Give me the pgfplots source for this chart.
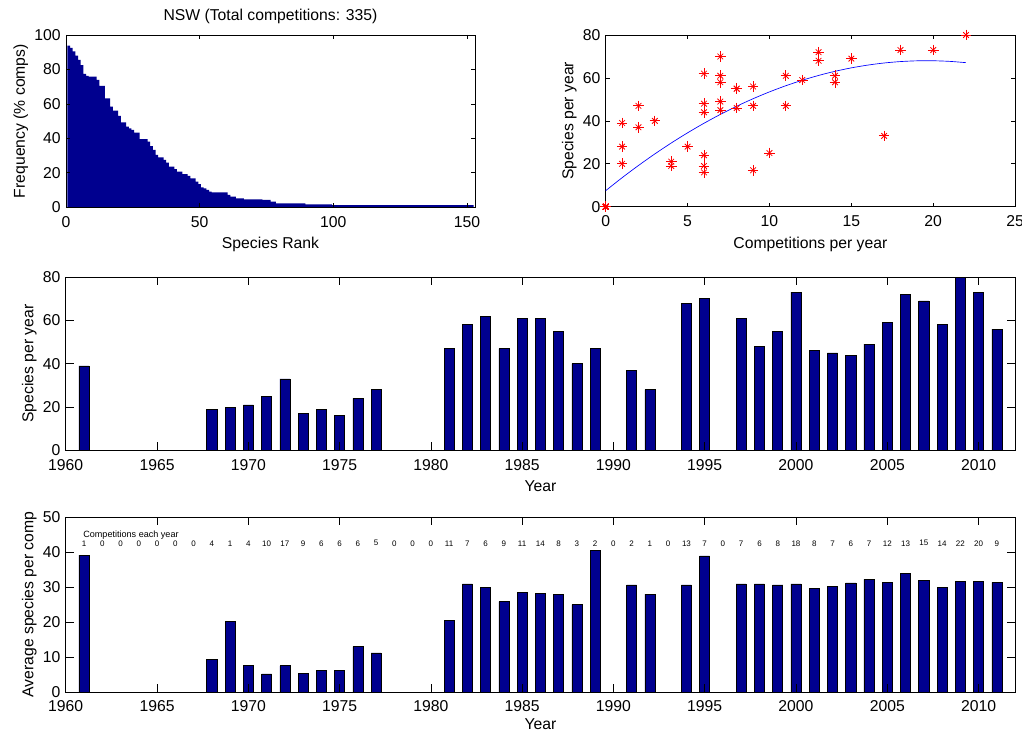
\documentclass[border=0pt]{standalone}
\usepackage{fontspec}
\setmainfont{Liberation Sans}
\usepackage{pgfplots}
\pgfplotsset{compat=1.18}
\definecolor{barnavy}{RGB}{0,0,143}
\pgfplotstableread{
year val
1961 39
1968 19
1969 20
1970 21
1971 25
1972 33
1973 17
1974 19
1975 16
1976 24
1977 28
1981 47
1982 58
1983 62
1984 47
1985 61
1986 61
1987 55
1988 40
1989 47
1991 37
1992 28
1994 68
1995 70
1997 61
1998 48
1999 55
2000 73
2001 46
2002 45
2003 44
2004 49
2005 59
2006 72
2007 69
2008 58
2009 80
2010 73
2011 56
}\speciesyear
\pgfplotstableread{
year val
1961 39.1
1968 9.3
1969 20.2
1970 7.5
1971 5.2
1972 7.5
1973 5.4
1974 6.1
1975 6.1
1976 13.0
1977 11.2
1981 20.5
1982 30.9
1983 29.8
1984 25.8
1985 28.4
1986 28.1
1987 27.8
1988 25.0
1989 40.5
1991 30.6
1992 28.0
1994 30.6
1995 38.9
1997 30.9
1998 30.9
1999 30.6
2000 30.9
2001 29.5
2002 30.2
2003 31.2
2004 32.2
2005 31.3
2006 34.0
2007 32.0
2008 29.9
2009 31.6
2010 31.6
2011 31.3
}\avgspecies
\pgfplotstableread{
year y c
1961 42.5 1
1962 42.5 0
1963 42.5 0
1964 42.5 0
1965 42.5 0
1966 42.5 0
1967 42.5 0
1968 42.5 4
1969 42.5 1
1970 42.5 4
1971 42.5 10
1972 42.5 17
1973 42.5 9
1974 42.5 6
1975 42.5 6
1976 42.5 6
1977 42.5 5
1978 42.5 0
1979 42.5 0
1980 42.5 0
1981 42.5 11
1982 42.5 7
1983 42.5 6
1984 42.5 9
1985 42.5 11
1986 42.5 14
1987 42.5 8
1988 42.5 3
1989 42.5 2
1990 42.5 0
1991 42.5 2
1992 42.5 1
1993 42.5 0
1994 42.5 13
1995 42.5 7
1996 42.5 0
1997 42.5 7
1998 42.5 6
1999 42.5 8
2000 42.5 18
2001 42.5 8
2002 42.5 7
2003 42.5 6
2004 42.5 7
2005 42.5 12
2006 42.5 13
2007 42.5 15
2008 42.5 14
2009 42.5 22
2010 42.5 20
2011 42.5 9
}\compsyear
\pgfplotstableread{
comps species
1 39
0 0
0 0
0 0
0 0
0 0
0 0
4 19
1 20
4 21
10 25
17 33
9 17
6 19
6 16
6 24
5 28
0 0
0 0
0 0
11 47
7 58
6 62
9 47
11 61
14 61
8 55
3 40
2 47
0 0
2 37
1 28
0 0
13 68
7 70
0 0
7 61
6 48
8 55
18 73
8 46
7 45
6 44
7 49
12 59
13 72
15 69
14 58
22 80
20 73
9 56
}\scatterdata
\pgfplotstableread{
x y
0 7.5
1 13.52
2 19.22
3 24.61
4 29.68
5 34.44
6 38.88
7 43.01
8 46.82
9 50.32
10 53.5
11 56.37
12 58.92
13 61.16
14 63.08
15 64.69
16 65.98
17 66.96
18 67.62
19 67.97
20 68.0
21 67.72
22 67.12
}\fitdata
\begin{document}
\begin{tikzpicture}
\path[use as bounding box] (0,0) rectangle (766.5pt,549.75pt);
\pgfplotsset{
  every axis/.append style={
    scale only axis, anchor=south west,
    font=\fontsize{11.8}{14}\selectfont,
    tick label style={font=\fontsize{11.8}{14}\selectfont},
    label style={font=\fontsize{11.8}{14}\selectfont},
    title style={font=\fontsize{11.8}{14}\selectfont, yshift=-1pt},
    xticklabel style={inner sep=1pt, yshift=-5.4pt},
    yticklabel style={inner sep=1pt, xshift=-2.9pt},
    xlabel style={yshift=-3pt},
    /pgf/number format/assume math mode=true,
    /pgf/number format/set thousands separator={},
    tick align=inside, xtick pos=both, ytick pos=both,
    axis line style={line width=0.5pt},
    every tick/.style={black, line width=0.5pt},
    scaled ticks=false,
  }
}
% top-left histogram
\begin{axis}[at={(49.5pt,394.3pt)}, width=306.75pt, height=129.2pt,
  xmin=0, xmax=153, ymin=0, ymax=100,
  xtick={0,50,100,150}, ytick={0,20,40,60,80,100},
  major tick length=3pt, axis on top,
  title={NSW (Total competitions: 335)},
  xlabel={Species Rank}, ylabel={Frequency (\% comps)}]
\addplot[ybar interval, fill=barnavy, draw=none] coordinates {
(0.5,93.8)(1.5,92.5)(2.5,90.5)(3.5,88)(4.5,85.5)(5.5,82.5)(6.5,77.4)(7.5,76.2)(8.5,75.8)(9.5,75.8)
(10.5,75.8)(11.5,73.9)(12.5,70.4)(13.5,70.4)(14.5,63.2)(15.5,63.2)(16.5,58.4)(17.5,56.1)(18.5,56.1)(19.5,53.0)
(20.5,49.3)(21.5,49.3)(22.5,46.8)(23.5,45.8)(24.5,44.9)(25.5,43.3)(26.5,43.3)(27.5,39.5)(28.5,39.5)(29.5,39.5)
(30.5,38.1)(31.5,35.5)(32.5,33.3)(33.5,30.4)(34.5,29.0)(35.5,29.0)(36.5,27.5)(37.5,25.9)(38.5,23.6)(39.5,23.6)
(40.5,22.1)(41.5,20.7)(42.5,20.7)(43.5,19.3)(44.5,19.3)(45.5,18.2)(46.5,16.8)(47.5,16.8)(48.5,14.9)(49.5,13.5)
(50.5,11.6)(51.5,11.0)(52.5,10.1)(53.5,9.1)(54.5,8.7)(55.5,8.7)(56.5,8.7)(57.5,8.7)(58.5,8.7)(59.5,8.7)
(60.5,7.2)(61.5,6.2)(62.5,6.2)(63.5,5.2)(64.5,5.2)(65.5,5.2)(66.5,4.6)(67.5,4.6)(68.5,4.6)(69.5,4.6)
(70.5,4.6)(71.5,4.6)(72.5,4.6)(73.5,4.3)(74.5,4.3)(75.5,4.3)(76.5,3.3)(77.5,3.3)(78.5,2.3)(79.5,2.3)
(80.5,2.3)(81.5,2.3)(82.5,2.3)(83.5,2.3)(84.5,2.3)(85.5,2.3)(86.5,2.3)(87.5,2.3)(88.5,2.3)(89.5,1.7)
(90.5,1.7)(91.5,1.7)(92.5,1.7)(93.5,1.7)(94.5,1.7)(95.5,1.7)(96.5,1.7)(97.5,1.7)(98.5,1.7)(99.5,1.2)
(100.5,1.2)(101.5,1.2)(102.5,1.2)(103.5,1.2)(104.5,1.2)(105.5,1.2)(106.5,1.2)(107.5,1.2)(108.5,1.2)(109.5,1.2)
(110.5,1.2)(111.5,1.2)(112.5,1.2)(113.5,1.2)(114.5,1.2)(115.5,1.2)(116.5,1.2)(117.5,1.2)(118.5,1.2)(119.5,1.2)
(120.5,1.2)(121.5,1.2)(122.5,1.2)(123.5,1.2)(124.5,1.2)(125.5,1.2)(126.5,1.2)(127.5,1.2)(128.5,1.2)(129.5,1.2)
(130.5,1.2)(131.5,1.2)(132.5,1.2)(133.5,1.2)(134.5,1.2)(135.5,1.2)(136.5,1.2)(137.5,1.2)(138.5,1.2)(139.5,1.2)
(140.5,1.2)(141.5,1.2)(142.5,1.2)(143.5,1.2)(144.5,1.2)(145.5,1.2)(146.5,1.2)(147.5,1.2)(148.5,1.2)(149.5,1.2)
(150.5,1.2)(151.5,1.2)(152.5,1.2)
};
\end{axis}
% top-right scatter
\begin{axis}[at={(454.3pt,394.7pt)}, width=307pt, height=128.8pt,
  xmin=0, xmax=25, ymin=0, ymax=80,
  xtick={0,5,10,15,20,25}, ytick={0,20,40,60,80},
  major tick length=3pt, clip=false,
  xlabel={Competitions per year}, ylabel={Species per year}]
\addplot[blue, line width=0.5pt, mark=none, smooth] table[x=x,y=y] {\fitdata};
\addplot[only marks, mark=+, mark size=4pt, red, mark options={line width=0.6pt}] table[x=comps,y=species] {\scatterdata};
\addplot[only marks, mark=x, mark size=3pt, red, mark options={line width=0.6pt}] table[x=comps,y=species] {\scatterdata};
\end{axis}
% middle bars
\begin{axis}[at={(49.3pt,212pt)}, width=712pt, height=130pt,
  xmin=1960, xmax=2012, ymin=0, ymax=80,
  xtick={1960,1965,...,2010}, ytick={0,20,40,60,80},
  major tick length=6pt, axis on top,
  xlabel={Year}, ylabel={Species per year}]
\addplot[ybar, bar width=0.55, fill=barnavy, draw=black, line width=0.4pt] table[x=year,y=val] {\speciesyear};
\end{axis}
% bottom bars
\begin{axis}[at={(49.3pt,30.75pt)}, width=712pt, height=131.25pt,
  xmin=1960, xmax=2012, ymin=0, ymax=50,
  xtick={1960,1965,...,2010}, ytick={0,10,20,30,40,50},
  major tick length=6pt, axis on top,
  xlabel={Year}, ylabel={Average species per comp},
  xlabel style={inner sep=0.5pt}]
\addplot[ybar, bar width=0.55, fill=barnavy, draw=black, line width=0.4pt] table[x=year,y=val] {\avgspecies};
\addplot[draw=none, mark=none, nodes near coords, point meta=explicit symbolic,
  every node near coord/.style={font=\fontsize{6}{7}\selectfont, anchor=center, inner sep=0pt}]
  table[x=year,y=y,meta=c] {\compsyear};
\node[anchor=west, inner sep=0pt, font=\fontsize{6.8}{8}\selectfont] at (axis cs:1960.95,44.8) {Competitions each year};
\end{axis}
\end{tikzpicture}
\end{document}
